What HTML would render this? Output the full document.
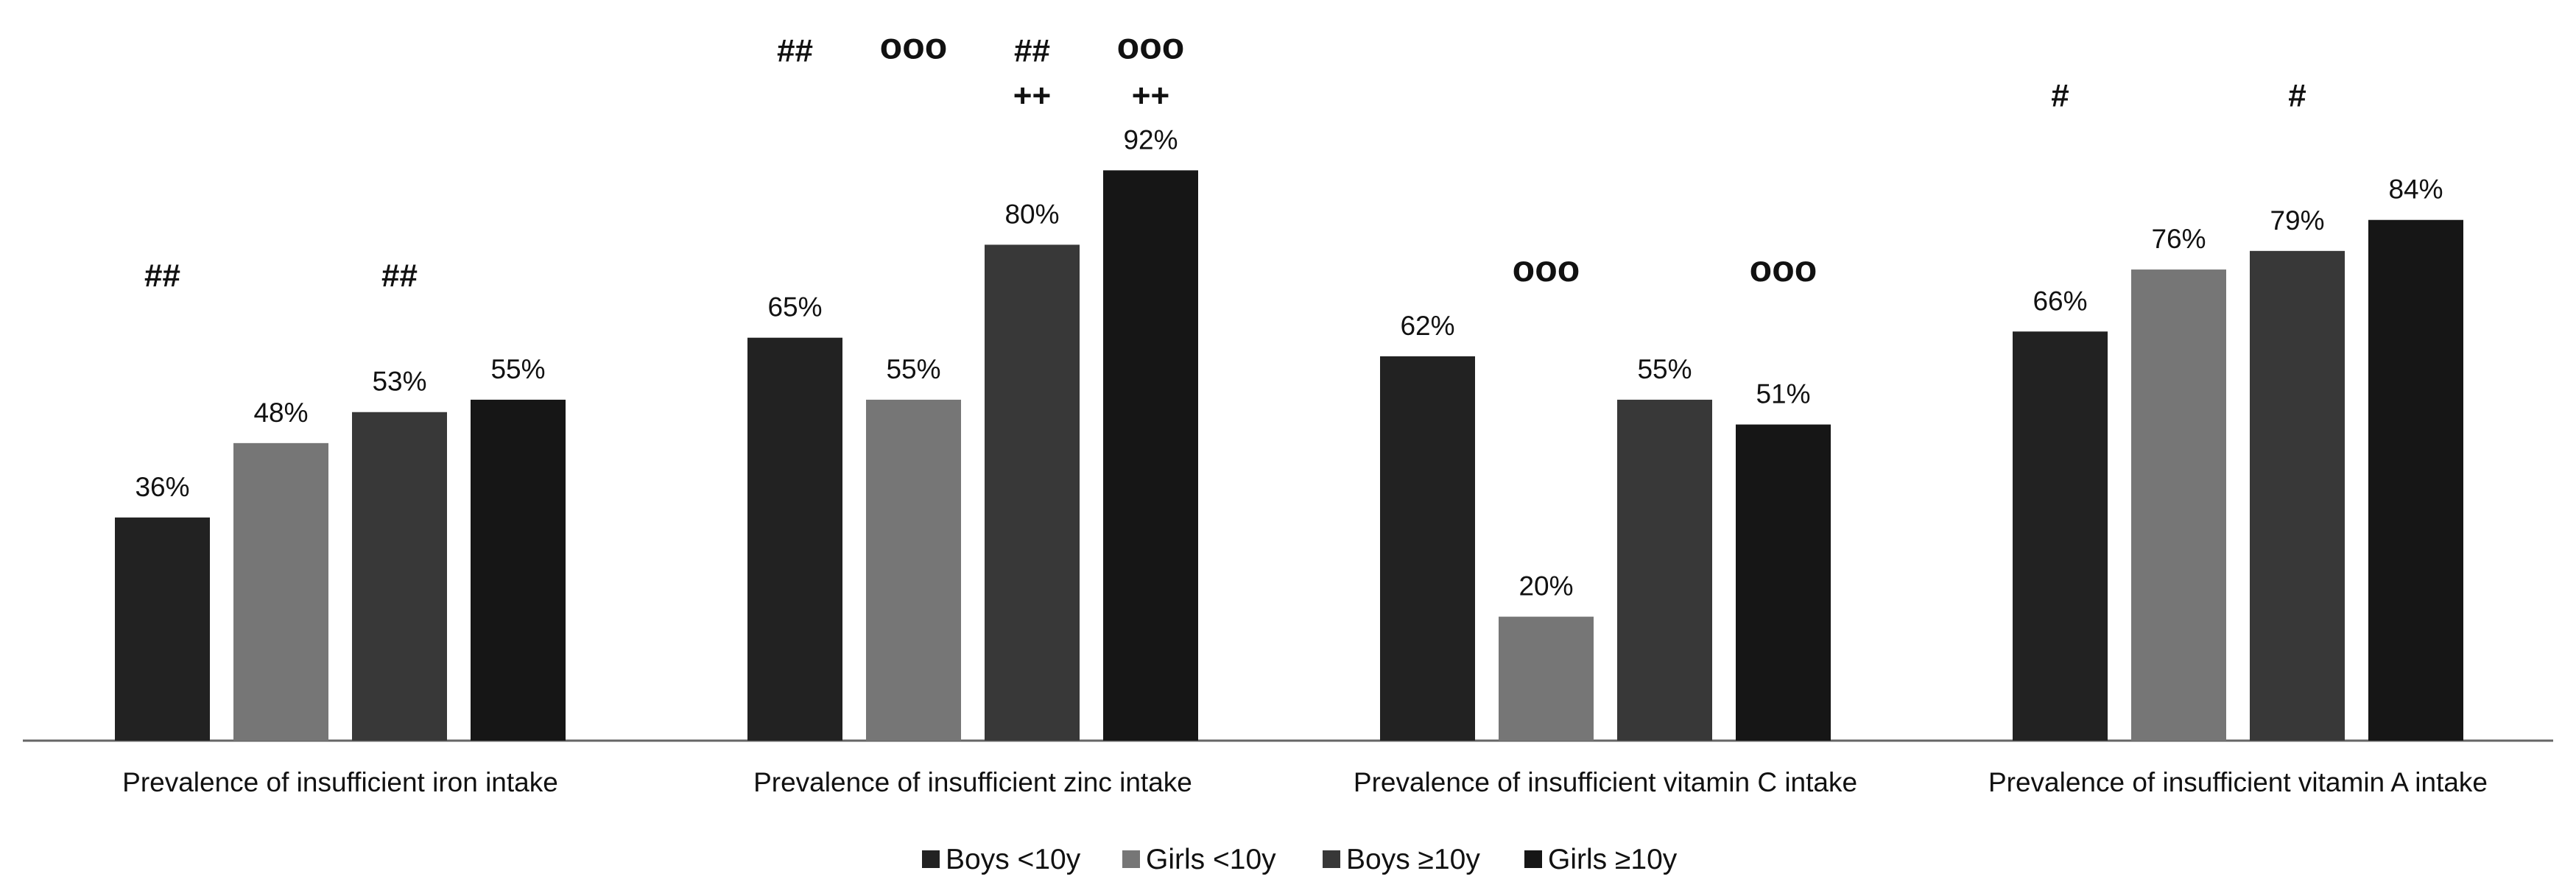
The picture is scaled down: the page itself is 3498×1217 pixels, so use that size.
<!DOCTYPE html>
<html><head><meta charset="utf-8"><style>
html,body{margin:0;padding:0;background:#fff;}
svg{display:block;font-family:"Liberation Sans",sans-serif;}
</style></head><body>
<svg id="chart" width="3498" height="1217" viewBox="0 0 3498 1217">
<line x1="31" y1="1006" x2="3467" y2="1006" stroke="#666" stroke-width="3"/>
<g id="bars"></g>
<g id="labels"></g>
<g id="legend"></g>
</svg>
<script>
const categories = ["Prevalence of insufficient iron intake","Prevalence of insufficient zinc intake","Prevalence of insufficient vitamin C intake","Prevalence of insufficient vitamin A intake"];
const seriesNames = ["Boys <10y","Girls <10y","Boys \u226510y","Girls \u226510y"];
const boysUnder10 = [36,65,62,66];
const girlsUnder10 = [48,55,20,76];
const boysOver10 = [53,80,55,79];
const girlsOver10 = [55,92,51,84];
const annotTop = [["##","","##",""],["##","ooo","##","ooo"],["","ooo","","ooo"],["#","","#",""]];
const annotSecond = [["","","",""],["","","++","++"],["","","",""],["","","",""]];
const colors = ["#222","#767676","#383838","#161616"];
const series = [boysUnder10,girlsUnder10,boysOver10,girlsOver10];
const topRowOffset = [154,148,102,154];
const NS="http://www.w3.org/2000/svg";
const axisY=1006, pxPer=8.42, groupStart=156, groupStep=859, barStep=161, barW=129;
const y = v => axisY - v*pxPer;
const x = (g,s) => groupStart + g*groupStep + s*barStep;
function mk(tag,attrs,parent){const e=document.createElementNS(NS,tag);for(const k in attrs)e.setAttribute(k,attrs[k]);parent.appendChild(e);return e;}
const bars=document.getElementById('bars'), labels=document.getElementById('labels'), legend=document.getElementById('legend');
const maxTop = categories.map((c,g)=>Math.min(...series.map(s=>y(s[g]))));
categories.forEach((cat,g)=>{
  series.forEach((s,si)=>{
    const r=mk('rect',{x:x(g,si),y:y(s[g]),width:barW,height:axisY-y(s[g]),fill:colors[si]},bars);
    
    
    const t=mk('text',{x:x(g,si)+barW/2,y:y(s[g])-29,'text-anchor':'middle','font-size':37,fill:'#111'},labels);
    t.textContent=s[g]+'%';
    
    
    if(annotSecond[g][si]){
      const a=mk('text',{x:x(g,si)+barW/2,y:maxTop[g]-87,'text-anchor':'middle','font-size':44,'font-weight':'bold',fill:'#111'},labels);
      a.textContent=annotSecond[g][si];
      
      
    }
    if(annotTop[g][si]){
      const isO = annotTop[g][si]==='ooo';
      const a=mk('text',{x:x(g,si)+barW/2,y:maxTop[g]-topRowOffset[g]-(isO&&g===1?4:0),'text-anchor':'middle','font-size':isO?50:44,'font-weight':'bold',fill:'#111'},labels);
      a.textContent=annotTop[g][si];
      
      
    }
  });
  const c=mk('text',{x:x(g,0)+(3*barStep+barW)/2,y:1075,'text-anchor':'middle','font-size':37,fill:'#111'},labels);
  c.textContent=cat;
  
  
});
const legX=[1252,1524,1796,2070];
seriesNames.forEach((n,i)=>{
  const r=mk('rect',{x:legX[i],y:1155,width:24,height:24,fill:colors[i]},legend);
  
  
  const t=mk('text',{x:legX[i]+32,y:1180,'font-size':39,fill:'#111'},legend);
  t.textContent=n;
  
  
});
</script>
</body></html>
